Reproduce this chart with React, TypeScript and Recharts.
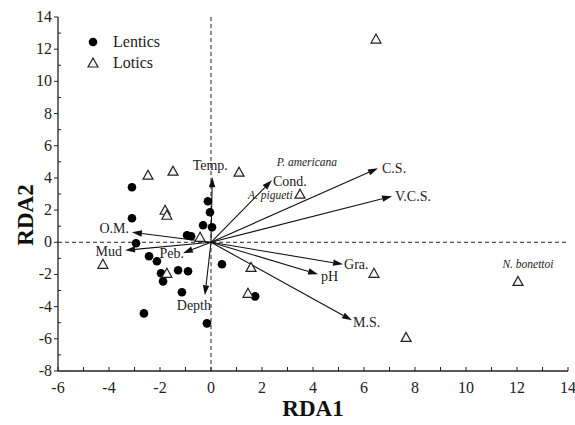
import React from 'react';
import { ScatterChart, Scatter, XAxis, YAxis, ReferenceLine, Legend } from 'recharts';

// site scores
const lenticsX = [-3.1, -3.1, -2.94, -2.43, -2.12, -1.96, -1.88, -1.29, -0.9, -1.14, -2.63, -0.16, 0.43, -0.94, -0.78, -0.12, -0.04, -0.31, 0.04, 1.73];
const lenticsY = [3.42, 1.49, -0.06, -0.87, -1.18, -1.93, -2.43, -1.74, -1.8, -3.11, -4.42, -5.04, -1.37, 0.44, 0.37, 2.55, 1.87, 1.06, 0.93, -3.36];
const loticsX = [6.47, -2.47, -1.49, 1.1, -1.8, -1.73, 3.49, -4.24, -0.43, -1.73, 1.57, 1.45, 6.39, 7.65, 12.04];
const loticsY = [12.63, 4.17, 4.42, 4.36, 1.99, 1.68, 2.99, -1.37, 0.31, -1.93, -1.56, -3.17, -1.93, -5.91, -2.43];

// environmental vectors
const envNames = ['Temp.', 'Cond.', 'C.S.', 'V.C.S.', 'Gra.', 'pH', 'M.S.', 'Depth', 'Peb.', 'O.M.', 'Mud'];
const envX = [0.05, 2.39, 6.55, 7.1, 5.18, 4.2, 5.53, -0.24, -1.1, -3.1, -3.37];
const envY = [4.05, 3.86, 4.6, 2.86, -1.37, -1.99, -4.85, -3.3, -0.68, 0.62, -0.5];

// species labels
const speciesNames = ['P. americana', 'A. pigueti', 'N. bonettoi'];
const speciesX = [3.76, 2.33, 12.43];
const speciesY = [4.98, 2.92, -1.37];

const xTicks = [-6, -5, -4, -3, -2, -1, 0, 1, 2, 3, 4, 5, 6, 7, 8, 9, 10, 11, 12, 13, 14];
const yTicks = [-8, -7, -6, -5, -4, -3, -2, -1, 0, 1, 2, 3, 4, 5, 6, 7, 8, 9, 10, 11, 12, 13, 14];

const lentics = lenticsX.map((x, i) => ({ x, y: lenticsY[i] }));
const lotics = loticsX.map((x, i) => ({ x, y: loticsY[i] }));
const species = speciesNames.map((name, i) => ({ name, x: speciesX[i], y: speciesY[i] }));

// where each vector label sits relative to its arrow tip
const labelPlace: Record<string, { anchor: string; dx: number; dy: number }> = {
  'Temp.': { anchor: 'middle', dx: -2, dy: -7 },
  'Cond.': { anchor: 'start', dx: 1, dy: 6 },
  'C.S.': { anchor: 'start', dx: 4, dy: 5 },
  'V.C.S.': { anchor: 'start', dx: 3, dy: 5 },
  'Gra.': { anchor: 'start', dx: 1, dy: 5 },
  pH: { anchor: 'start', dx: 3, dy: 7 },
  'M.S.': { anchor: 'start', dx: 1, dy: 7 },
  Depth: { anchor: 'middle', dx: -11, dy: 15 },
  'Peb.': { anchor: 'end', dx: 1, dy: 5 },
  'O.M.': { anchor: 'end', dx: -3, dy: 1 },
  Mud: { anchor: 'end', dx: -3, dy: 6 },
};

const FONT = 'Liberation Serif';

const XTick = (props: any) => {
  const { x, y, payload } = props;
  const major = payload.value % 2 === 0;
  return (
    <g>
      <line x1={x} y1={y} x2={x} y2={y - 4} stroke="#222" />
      {major && (
        <text x={x} y={y + 22} textAnchor="middle" fontSize={16} fontFamily={FONT} fill="#222">
          {payload.value}
        </text>
      )}
    </g>
  );
};

const YTick = (props: any) => {
  const { x, y, payload } = props;
  const major = payload.value % 2 === 0;
  return (
    <g>
      {major ? <line x1={x} y1={y} x2={x - 4} y2={y} stroke="#222" /> : <line x1={x} y1={y} x2={x + 3} y2={y} stroke="#222" />}
      {major && (
        <text x={x - 6} y={y + 5} textAnchor="end" fontSize={16} fontFamily={FONT} fill="#222">
          {payload.value}
        </text>
      )}
    </g>
  );
};

const TopTick = (props: any) => (
  <line x1={props.x} y1={props.y} x2={props.x} y2={props.y + 3} stroke="#444" />
);
const RightTick = (props: any) => (
  <line x1={props.x} y1={props.y} x2={props.x - 3} y2={props.y} stroke="#444" />
);

const Triangle = (props: any) => {
  const { cx, cy } = props;
  if (cx == null) return null;
  const s = 5;
  return (
    <polygon
      points={`${cx},${cy - s} ${cx - s},${cy + s * 0.8} ${cx + s},${cy + s * 0.8}`}
      fill="#f4f4f4"
      stroke="#222"
      strokeWidth={1.2}
    />
  );
};

const Dot = (props: any) => {
  const { cx, cy } = props;
  if (cx == null) return null;
  return <circle cx={cx} cy={cy} r={4.3} fill="#000" />;
};

const SpeciesLabel = (props: any) => {
  const { cx, cy, payload } = props;
  if (cx == null) return null;
  return (
    <text x={cx} y={cy + 4} textAnchor="middle" fontSize={11.5} fontStyle="italic" fontFamily={FONT} fill="#222">
      {payload.name}
    </text>
  );
};

const arrowShape = (name: string) => (p: any) => {
  const { x1, y1, x2, y2 } = p;
  const ang = Math.atan2(y2 - y1, x2 - x1);
  const len = 10;
  const w = 3.2;
  const bx = x2 - len * Math.cos(ang);
  const by = y2 - len * Math.sin(ang);
  const px = -Math.sin(ang) * w;
  const py = Math.cos(ang) * w;
  const place = labelPlace[name];
  return (
    <g>
      <line x1={x1} y1={y1} x2={bx} y2={by} stroke="#111" strokeWidth={1.1} />
      <polygon points={`${x2},${y2} ${bx + px},${by + py} ${bx - px},${by - py}`} fill="#111" />
      <text
        x={x2 + place.dx}
        y={y2 + place.dy}
        textAnchor={place.anchor}
        fontSize={14}
        fontFamily={FONT}
        fill="#222"
      >
        {name}
      </text>
    </g>
  );
};

const LegendBox = () => (
  <svg width={120} height={50}>
    <circle cx={13} cy={12} r={4.3} fill="#000" />
    <text x={33} y={17} fontSize={16} fontFamily={FONT} fill="#222">Lentics</text>
    <polygon points="13,28 8,37 18,37" fill="#f4f4f4" stroke="#222" strokeWidth={1.2} />
    <text x={33} y={38} fontSize={16} fontFamily={FONT} fill="#222">Lotics</text>
  </svg>
);

export default function App() {
  return (
    <div style={{ position: 'absolute', left: 0, top: 0, width: 575, height: 425, background: '#fff' }}>
      <ScatterChart width={575} height={425} margin={{ top: 17, right: 7, bottom: 0, left: 10 }}>
        <XAxis
          dataKey="x"
          type="number"
          domain={[-6, 14]}
          ticks={xTicks}
          interval={0}
          tickSize={0}
          tickMargin={0}
          tick={<XTick />}
          height={54}
          axisLine={{ stroke: '#222', strokeWidth: 1.3 }}
          label={{
            content: (lp: any) => (
              <text
                x={lp.viewBox.x + lp.viewBox.width / 2}
                y={416}
                textAnchor="middle"
                fontSize={23}
                fontWeight="bold"
                fontFamily={FONT}
                fill="#111"
              >
                RDA1
              </text>
            ),
          }}
        />
        <YAxis
          dataKey="y"
          type="number"
          domain={[-8, 14]}
          ticks={yTicks}
          interval={0}
          tickSize={0}
          tickMargin={0}
          tick={<YTick />}
          width={48}
          axisLine={{ stroke: '#222', strokeWidth: 1.3 }}
          label={{
            content: () => (
              <text
                x={33}
                y={215}
                transform="rotate(-90, 33, 215)"
                textAnchor="middle"
                fontSize={23}
                fontWeight="bold"
                fontFamily={FONT}
                fill="#111"
              >
                RDA2
              </text>
            ),
          }}
        />
        <XAxis
          xAxisId="top"
          orientation="top"
          type="number"
          domain={[-6, 14]}
          ticks={xTicks}
          interval={0}
          tickSize={0}
          tickMargin={0}
          tick={<TopTick />}
          height={0}
          axisLine={{ stroke: '#222', strokeWidth: 1.3 }}
        />
        <YAxis
          yAxisId="right"
          orientation="right"
          type="number"
          domain={[-8, 14]}
          ticks={yTicks}
          interval={0}
          tickSize={0}
          tickMargin={0}
          tick={<RightTick />}
          width={0}
          axisLine={{ stroke: '#222', strokeWidth: 1.3 }}
        />
        <ReferenceLine x={0} stroke="#222" strokeDasharray="4 3" />
        <ReferenceLine y={0} stroke="#222" strokeDasharray="4 3" />
        {envNames.map((name, i) => (
          <ReferenceLine
            key={name}
            segment={[
              { x: 0, y: 0 },
              { x: envX[i], y: envY[i] },
            ]}
            shape={arrowShape(name)}
          />
        ))}
        <Scatter name="Lentics" data={lentics} shape={<Dot />} isAnimationActive={false} />
        <Scatter name="Lotics" data={lotics} shape={<Triangle />} isAnimationActive={false} />
        <Scatter name="species" data={species} shape={<SpeciesLabel />} isAnimationActive={false} />
        <Legend
          layout="vertical"
          align="center"
          verticalAlign="middle"
          content={() => <LegendBox />}
          wrapperStyle={{ left: 80, top: 30, width: 120, height: 50 }}
        />
      </ScatterChart>
    </div>
  );
}
